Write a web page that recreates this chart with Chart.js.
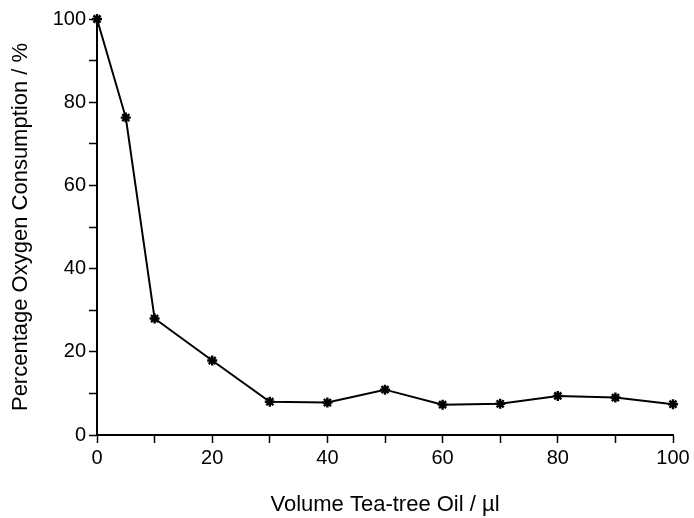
<!DOCTYPE html>
<html>
<head>
<meta charset="utf-8">
<script src="https://cdn.jsdelivr.net/npm/chart.js@4/dist/chart.umd.min.js"></script>
<style>
  html, body { margin: 0; padding: 0; background: #fff; }
  #wrap { width: 694px; height: 518px; }
</style>
</head>
<body>
<div id="wrap"><canvas id="oxygenChart" width="694" height="518"></canvas></div>
<script>
const volumes = [0, 5, 10, 20, 30, 40, 50, 60, 70, 80, 90, 100];
const consumption = [100, 76.3, 28.0, 17.9, 8.0, 7.8, 10.9, 7.3, 7.5, 9.4, 9.0, 7.4];
const xTicks = [0, 20, 40, 60, 80, 100];
const yTicks = [0, 20, 40, 60, 80, 100];

function renderChart() {
    const ctx = document.getElementById('oxygenChart').getContext('2d');
    const points = volumes.map((v, i) => ({ x: v, y: consumption[i] }));

    const axisFont = { family: 'Liberation Sans, Arial, sans-serif', size: 20 };
    const titleFont = { family: 'Liberation Sans, Arial, sans-serif', size: 22 };

    // label every 20, leave the 10s as bare tick marks
    const showMajor = (list) => (value) => list.includes(value) ? String(value) : '';

    window.oxygenChart = new Chart(ctx, {
        type: 'scatter',
        data: {
            datasets: [{
                data: points,
                showLine: true,
                clip: false,
                borderColor: '#000',
                backgroundColor: '#000',
                borderWidth: 2,
                pointStyle: 'star',
                pointRadius: 5,
                pointBorderWidth: 2.4,
                pointBorderColor: '#000',
                tension: 0
            }]
        },
        options: {
            responsive: false,
            animation: false,
            layout: { padding: { top: 19, right: 21, bottom: 0, left: 0 } },
            plugins: {
                legend: { display: false },
                tooltip: { enabled: false }
            },
            scales: {
                x: {
                    type: 'linear',
                    min: 0,
                    max: 100,
                    afterFit: (scale) => { scale.height = 83; },
                    ticks: {
                        stepSize: 10,
                        autoSkip: false,
                        maxRotation: 0,
                        color: '#000',
                        font: axisFont,
                        padding: 3,
                        callback: showMajor(xTicks)
                    },
                    grid: {
                        drawOnChartArea: false,
                        drawTicks: true,
                        tickLength: 8,
                        tickColor: '#000',
                        tickWidth: 1.5
                    },
                    border: { color: '#000', width: 2 },
                    title: {
                        display: true,
                        text: 'Volume Tea-tree Oil / µl',
                        color: '#000',
                        font: titleFont,
                        padding: { top: 0, bottom: 0 }
                    }
                },
                y: {
                    type: 'linear',
                    min: 0,
                    max: 100,
                    afterFit: (scale) => { scale.width = 97; },
                    ticks: {
                        stepSize: 10,
                        autoSkip: false,
                        color: '#000',
                        font: axisFont,
                        padding: 3,
                        callback: showMajor(yTicks)
                    },
                    grid: {
                        drawOnChartArea: false,
                        drawTicks: true,
                        tickLength: 8,
                        tickColor: '#000',
                        tickWidth: 1.5
                    },
                    border: { color: '#000', width: 2 },
                    title: {
                        display: true,
                        text: 'Percentage Oxygen Consumption / %',
                        color: '#000',
                        font: titleFont,
                        padding: { top: 8, bottom: 0 }
                    }
                }
            }
        }
    });
}

renderChart();
</script>
</body>
</html>
